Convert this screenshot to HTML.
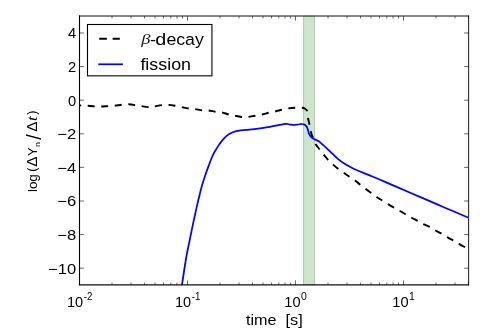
<!DOCTYPE html>
<html><head><meta charset="utf-8"><title>plot</title>
<style>
html,body{margin:0;padding:0;background:#fff;}
body{width:498px;height:336px;overflow:hidden;}
svg{display:block;will-change:transform;}
text{font-family:"Liberation Sans",sans-serif;fill:#000;}
.it{font-family:"Liberation Serif",serif;font-style:italic;}
</style></head><body>
<svg width="498" height="336" viewBox="0 0 498 336">
<rect x="0" y="0" width="498" height="336" fill="#ffffff"/>
<defs><clipPath id="ax"><rect x="79.50" y="16.20" width="389.00" height="268.60"/></clipPath></defs>

<rect x="303.6" y="16.20" width="10.95" height="268.60" fill="#cce6cc" stroke="#b2c8b3" stroke-width="1"/>
<g clip-path="url(#ax)" fill="none" stroke-linejoin="round">
<path d="M72.00,105.30 C73.25,105.32 77.00,105.33 79.50,105.40 C82.00,105.47 84.50,105.53 87.00,105.70 C89.50,105.87 92.17,106.27 94.50,106.40 C96.83,106.53 98.75,106.55 101.00,106.50 C103.25,106.45 105.75,106.23 108.00,106.10 C110.25,105.97 112.20,105.92 114.50,105.70 C116.80,105.48 119.58,105.03 121.80,104.80 C124.02,104.57 126.18,104.35 127.80,104.30 C129.42,104.25 130.27,104.37 131.50,104.50 C132.73,104.63 133.57,104.83 135.20,105.10 C136.83,105.37 139.12,105.77 141.30,106.10 C143.48,106.43 146.60,106.95 148.30,107.10 C150.00,107.25 150.50,107.10 151.50,107.00 C152.50,106.90 152.55,106.82 154.30,106.50 C156.05,106.18 159.72,105.37 162.00,105.10 C164.28,104.83 165.83,104.80 168.00,104.90 C170.17,105.00 172.72,105.33 175.00,105.70 C177.28,106.07 179.45,106.63 181.70,107.10 C183.95,107.57 186.27,108.17 188.50,108.50 C190.73,108.83 192.83,108.80 195.10,109.10 C197.37,109.40 199.85,110.07 202.10,110.30 C204.35,110.53 206.42,110.27 208.60,110.50 C210.78,110.73 213.00,111.40 215.20,111.70 C217.40,112.00 219.55,111.83 221.80,112.30 C224.05,112.77 226.52,113.93 228.70,114.50 C230.88,115.07 232.70,115.27 234.90,115.70 C237.10,116.13 240.22,116.83 241.90,117.10 C243.58,117.37 243.93,117.33 245.00,117.30 C246.07,117.27 246.57,117.17 248.30,116.90 C250.03,116.63 253.12,116.10 255.40,115.70 C257.68,115.30 259.73,115.00 262.00,114.50 C264.27,114.00 266.82,113.20 269.00,112.70 C271.18,112.20 272.92,112.00 275.10,111.50 C277.28,111.00 279.92,110.22 282.10,109.70 C284.28,109.18 286.00,108.73 288.20,108.40 C290.40,108.07 293.00,107.80 295.30,107.70 C297.60,107.60 300.38,107.63 302.00,107.80 C303.62,107.97 304.15,108.20 305.00,108.70 C305.85,109.20 306.67,109.83 307.10,110.80 C307.53,111.77 307.44,113.25 307.60,114.50 C307.76,115.75 307.75,116.72 308.05,118.30 C308.35,119.88 308.97,121.97 309.40,124.00 C309.82,126.03 310.20,128.67 310.60,130.50 C311.00,132.33 311.32,133.65 311.80,135.00 C312.28,136.35 312.82,137.02 313.50,138.60 C314.18,140.18 314.90,142.72 315.90,144.50 C316.90,146.28 318.23,147.63 319.50,149.30 C320.77,150.97 322.07,152.75 323.50,154.50 C324.93,156.25 326.50,158.12 328.10,159.80 C329.70,161.48 331.35,163.03 333.10,164.60 C334.85,166.17 336.82,167.83 338.60,169.20 C340.38,170.57 341.93,171.52 343.80,172.80 C345.67,174.09 347.90,175.64 349.80,176.91 C351.70,178.18 353.38,179.06 355.20,180.42 C357.02,181.77 357.07,182.24 360.70,185.04 C364.33,187.84 373.28,194.56 377.00,197.20 C380.72,199.84 381.10,199.72 383.00,200.90 C384.90,202.08 386.38,203.07 388.40,204.30 C390.42,205.53 393.08,207.15 395.10,208.30 C397.12,209.45 398.55,210.08 400.50,211.20 C402.45,212.32 404.87,213.87 406.80,215.00 C408.73,216.13 410.15,216.95 412.10,218.00 C414.05,219.05 416.52,220.24 418.50,221.30 C420.48,222.36 422.00,223.36 424.00,224.35 C426.00,225.34 428.57,226.22 430.50,227.25 C432.43,228.28 433.65,229.43 435.60,230.55 C437.55,231.67 440.27,232.85 442.20,233.95 C444.13,235.05 445.20,235.97 447.20,237.15 C449.20,238.33 452.18,239.90 454.20,241.05 C456.22,242.20 457.35,242.95 459.30,244.05 C461.25,245.15 464.37,246.82 465.90,247.65 C467.43,248.48 468.07,248.82 468.50,249.05" stroke="#000" stroke-width="1.9" stroke-dasharray="7.0 6.55" stroke-dashoffset="11.4"/>
<path d="M181.90,286.00 C181.93,285.70 181.37,289.03 182.10,284.20 C182.83,279.37 185.07,264.17 186.30,257.00 C187.53,249.83 188.38,246.68 189.50,241.20 C190.62,235.72 191.80,229.78 193.00,224.10 C194.20,218.42 195.68,211.62 196.70,207.10 C197.72,202.58 198.25,200.48 199.10,197.00 C199.95,193.52 200.77,189.83 201.80,186.20 C202.83,182.57 204.12,178.72 205.30,175.20 C206.48,171.68 207.63,168.45 208.90,165.10 C210.17,161.75 211.57,157.93 212.90,155.10 C214.23,152.27 215.40,150.47 216.90,148.10 C218.40,145.73 220.23,142.98 221.90,140.90 C223.57,138.82 225.08,137.03 226.90,135.60 C228.72,134.17 230.52,133.17 232.80,132.30 C235.08,131.43 237.00,130.92 240.60,130.40 C244.20,129.88 250.17,129.70 254.40,129.20 C258.63,128.70 262.38,128.00 266.00,127.40 C269.62,126.80 272.77,126.18 276.10,125.60 C279.43,125.02 283.68,124.07 286.00,123.90 C288.32,123.73 288.65,124.42 290.00,124.60 C291.35,124.78 292.75,125.02 294.10,125.00 C295.45,124.98 296.88,124.67 298.10,124.50 C299.32,124.33 300.35,123.98 301.40,124.00 C302.45,124.02 303.55,124.20 304.40,124.60 C305.25,125.00 305.95,125.68 306.50,126.40 C307.05,127.12 307.39,128.08 307.70,128.90 C308.01,129.72 308.14,130.52 308.35,131.30 C308.56,132.08 308.50,132.67 308.95,133.60 C309.40,134.53 310.19,136.00 311.05,136.90 C311.91,137.80 312.89,138.30 314.10,139.00 C315.31,139.70 317.00,140.27 318.30,141.10 C319.60,141.93 320.62,142.92 321.90,144.00 C323.18,145.08 324.30,146.03 326.00,147.60 C327.70,149.17 330.07,151.47 332.10,153.40 C334.13,155.33 336.18,157.50 338.20,159.20 C340.22,160.90 341.87,162.13 344.20,163.60 C346.53,165.07 349.18,166.53 352.20,168.00 C355.22,169.47 358.95,170.98 362.30,172.40 C365.65,173.82 368.62,174.97 372.30,176.50 C375.98,178.03 380.45,179.91 384.40,181.60 C388.35,183.29 389.70,183.93 396.00,186.65 C402.30,189.37 414.03,194.39 422.20,197.90 C430.37,201.41 437.28,204.38 445.00,207.70 C452.72,211.02 464.58,216.12 468.50,217.80" stroke="#0000ff" stroke-width="1.75"/>
</g>
<g fill="none" stroke-linecap="square"><path d="M79.50,16.00 V284.80" stroke="#000" stroke-width="1.1"/><path d="M79.50,16.00 H468.50" stroke="#111" stroke-width="1.15"/><path d="M79.50,284.80 H468.50" stroke="#111" stroke-width="1.15"/><path d="M468.55,16.00 V284.80" stroke="#333" stroke-width="1.15"/></g>
<g stroke="#000" stroke-width="0.6" fill="none"><path d="M79.50,268.20 h4.4 M468.50,268.20 h-4.4"/><path d="M79.50,234.60 h4.4 M468.50,234.60 h-4.4"/><path d="M79.50,201.00 h4.4 M468.50,201.00 h-4.4"/><path d="M79.50,167.40 h4.4 M468.50,167.40 h-4.4"/><path d="M79.50,133.80 h4.4 M468.50,133.80 h-4.4"/><path d="M79.50,100.20 h4.4 M468.50,100.20 h-4.4"/><path d="M79.50,66.60 h4.4 M468.50,66.60 h-4.4"/><path d="M79.50,33.00 h4.4 M468.50,33.00 h-4.4"/><path d="M79.50,284.80 v-4.4 M79.50,16.20 v4.4"/><path d="M112.01,284.80 v-2.2 M112.01,16.20 v2.2"/><path d="M131.03,284.80 v-2.2 M131.03,16.20 v2.2"/><path d="M144.52,284.80 v-2.2 M144.52,16.20 v2.2"/><path d="M154.99,284.80 v-2.2 M154.99,16.20 v2.2"/><path d="M163.54,284.80 v-2.2 M163.54,16.20 v2.2"/><path d="M170.77,284.80 v-2.2 M170.77,16.20 v2.2"/><path d="M177.03,284.80 v-2.2 M177.03,16.20 v2.2"/><path d="M182.56,284.80 v-2.2 M182.56,16.20 v2.2"/><path d="M187.50,284.80 v-4.4 M187.50,16.20 v4.4"/><path d="M220.01,284.80 v-2.2 M220.01,16.20 v2.2"/><path d="M239.03,284.80 v-2.2 M239.03,16.20 v2.2"/><path d="M252.52,284.80 v-2.2 M252.52,16.20 v2.2"/><path d="M262.99,284.80 v-2.2 M262.99,16.20 v2.2"/><path d="M271.54,284.80 v-2.2 M271.54,16.20 v2.2"/><path d="M278.77,284.80 v-2.2 M278.77,16.20 v2.2"/><path d="M285.03,284.80 v-2.2 M285.03,16.20 v2.2"/><path d="M290.56,284.80 v-2.2 M290.56,16.20 v2.2"/><path d="M295.50,284.80 v-4.4 M295.50,16.20 v4.4"/><path d="M328.01,284.80 v-2.2 M328.01,16.20 v2.2"/><path d="M347.03,284.80 v-2.2 M347.03,16.20 v2.2"/><path d="M360.52,284.80 v-2.2 M360.52,16.20 v2.2"/><path d="M370.99,284.80 v-2.2 M370.99,16.20 v2.2"/><path d="M379.54,284.80 v-2.2 M379.54,16.20 v2.2"/><path d="M386.77,284.80 v-2.2 M386.77,16.20 v2.2"/><path d="M393.03,284.80 v-2.2 M393.03,16.20 v2.2"/><path d="M398.56,284.80 v-2.2 M398.56,16.20 v2.2"/><path d="M403.50,284.80 v-4.4 M403.50,16.20 v4.4"/><path d="M436.01,284.80 v-2.2 M436.01,16.20 v2.2"/><path d="M455.03,284.80 v-2.2 M455.03,16.20 v2.2"/><path d="M468.52,284.80 v-2.2 M468.52,16.20 v2.2"/></g>
<text x="76.2" y="273.50" font-size="14.4" text-anchor="end" textLength="28.1" lengthAdjust="spacingAndGlyphs">−10</text>
<text x="76.2" y="239.90" font-size="14.4" text-anchor="end" textLength="18.9" lengthAdjust="spacingAndGlyphs">−8</text>
<text x="76.2" y="206.30" font-size="14.4" text-anchor="end" textLength="18.9" lengthAdjust="spacingAndGlyphs">−6</text>
<text x="76.2" y="172.70" font-size="14.4" text-anchor="end" textLength="18.9" lengthAdjust="spacingAndGlyphs">−4</text>
<text x="76.2" y="139.10" font-size="14.4" text-anchor="end" textLength="18.9" lengthAdjust="spacingAndGlyphs">−2</text>
<text x="76.2" y="105.50" font-size="14.4" text-anchor="end" textLength="8.2" lengthAdjust="spacingAndGlyphs">0</text>
<text x="76.2" y="71.90" font-size="14.4" text-anchor="end" textLength="8.2" lengthAdjust="spacingAndGlyphs">2</text>
<text x="76.2" y="38.30" font-size="14.4" text-anchor="end" textLength="8.2" lengthAdjust="spacingAndGlyphs">4</text>
<text x="67.00" y="306.6" font-size="14.4" textLength="16.2" lengthAdjust="spacingAndGlyphs">10</text>
<text x="83.80" y="299.6" font-size="10" textLength="8.6" lengthAdjust="spacingAndGlyphs">-2</text>
<text x="175.00" y="306.6" font-size="14.4" textLength="16.2" lengthAdjust="spacingAndGlyphs">10</text>
<text x="191.80" y="299.6" font-size="10" textLength="8.6" lengthAdjust="spacingAndGlyphs">-1</text>
<text x="284.30" y="306.6" font-size="14.4" textLength="16.2" lengthAdjust="spacingAndGlyphs">10</text>
<text x="301.10" y="299.6" font-size="10" textLength="5.8" lengthAdjust="spacingAndGlyphs">0</text>
<text x="392.30" y="306.6" font-size="14.4" textLength="16.2" lengthAdjust="spacingAndGlyphs">10</text>
<text x="409.10" y="299.6" font-size="10" textLength="5.8" lengthAdjust="spacingAndGlyphs">1</text>
<text x="246.0" y="324.7" font-size="14" textLength="30.5" lengthAdjust="spacingAndGlyphs">time</text>
<text x="285.6" y="324.7" font-size="14" textLength="17.2" lengthAdjust="spacingAndGlyphs">[s]</text>
<g transform="translate(36.7,191.7) rotate(-90)">
<text x="-0.4" y="0" font-size="13.4" textLength="17.9" lengthAdjust="spacingAndGlyphs">log</text>
<text x="19.95" y="-0.8" font-size="12.6">(</text>
<text x="24.9" y="0" font-size="13.8" textLength="10.2" lengthAdjust="spacingAndGlyphs">Δ</text>
<text x="35.6" y="0" font-size="13.4" textLength="8.6" lengthAdjust="spacingAndGlyphs">Y</text>
<text x="44.7" y="2.9" font-size="8" textLength="5" lengthAdjust="spacingAndGlyphs">n</text>
<text x="52.0" y="3.9" font-size="19.4">/</text>
<text x="59.9" y="0" font-size="13.8" textLength="10.2" lengthAdjust="spacingAndGlyphs">Δ</text>
<text class="it" x="70.8" y="0" font-size="14" textLength="4.8" lengthAdjust="spacingAndGlyphs">t</text>
<text x="76.9" y="-0.8" font-size="12.6">)</text>
</g>
<rect x="87.5" y="24.5" width="124.45" height="51.35" fill="#fff" stroke="#000" stroke-width="1.1"/>
<path d="M99.2,38.8 H106.9 M112.6,38.8 H119.8" stroke="#000" stroke-width="1.9" fill="none"/>
<path d="M98.3,64.3 H122.9" stroke="#0000ff" stroke-width="1.75" fill="none"/>
<text class="it" x="141.2" y="44.4" font-size="15.6" textLength="9.2" lengthAdjust="spacingAndGlyphs" style="fill:#222">β</text>
<text x="150.1" y="44.6" font-size="16.8" textLength="5.9" lengthAdjust="spacingAndGlyphs">-</text>
<text x="155.2" y="44.6" font-size="16.8" textLength="11.0" lengthAdjust="spacingAndGlyphs">d</text>
<text x="166.4" y="44.6" font-size="16.8" textLength="37.4" lengthAdjust="spacingAndGlyphs">ecay</text>
<text x="140.4" y="69.5" font-size="16.6" textLength="50.6" lengthAdjust="spacingAndGlyphs">fission</text>
</svg></body></html>
